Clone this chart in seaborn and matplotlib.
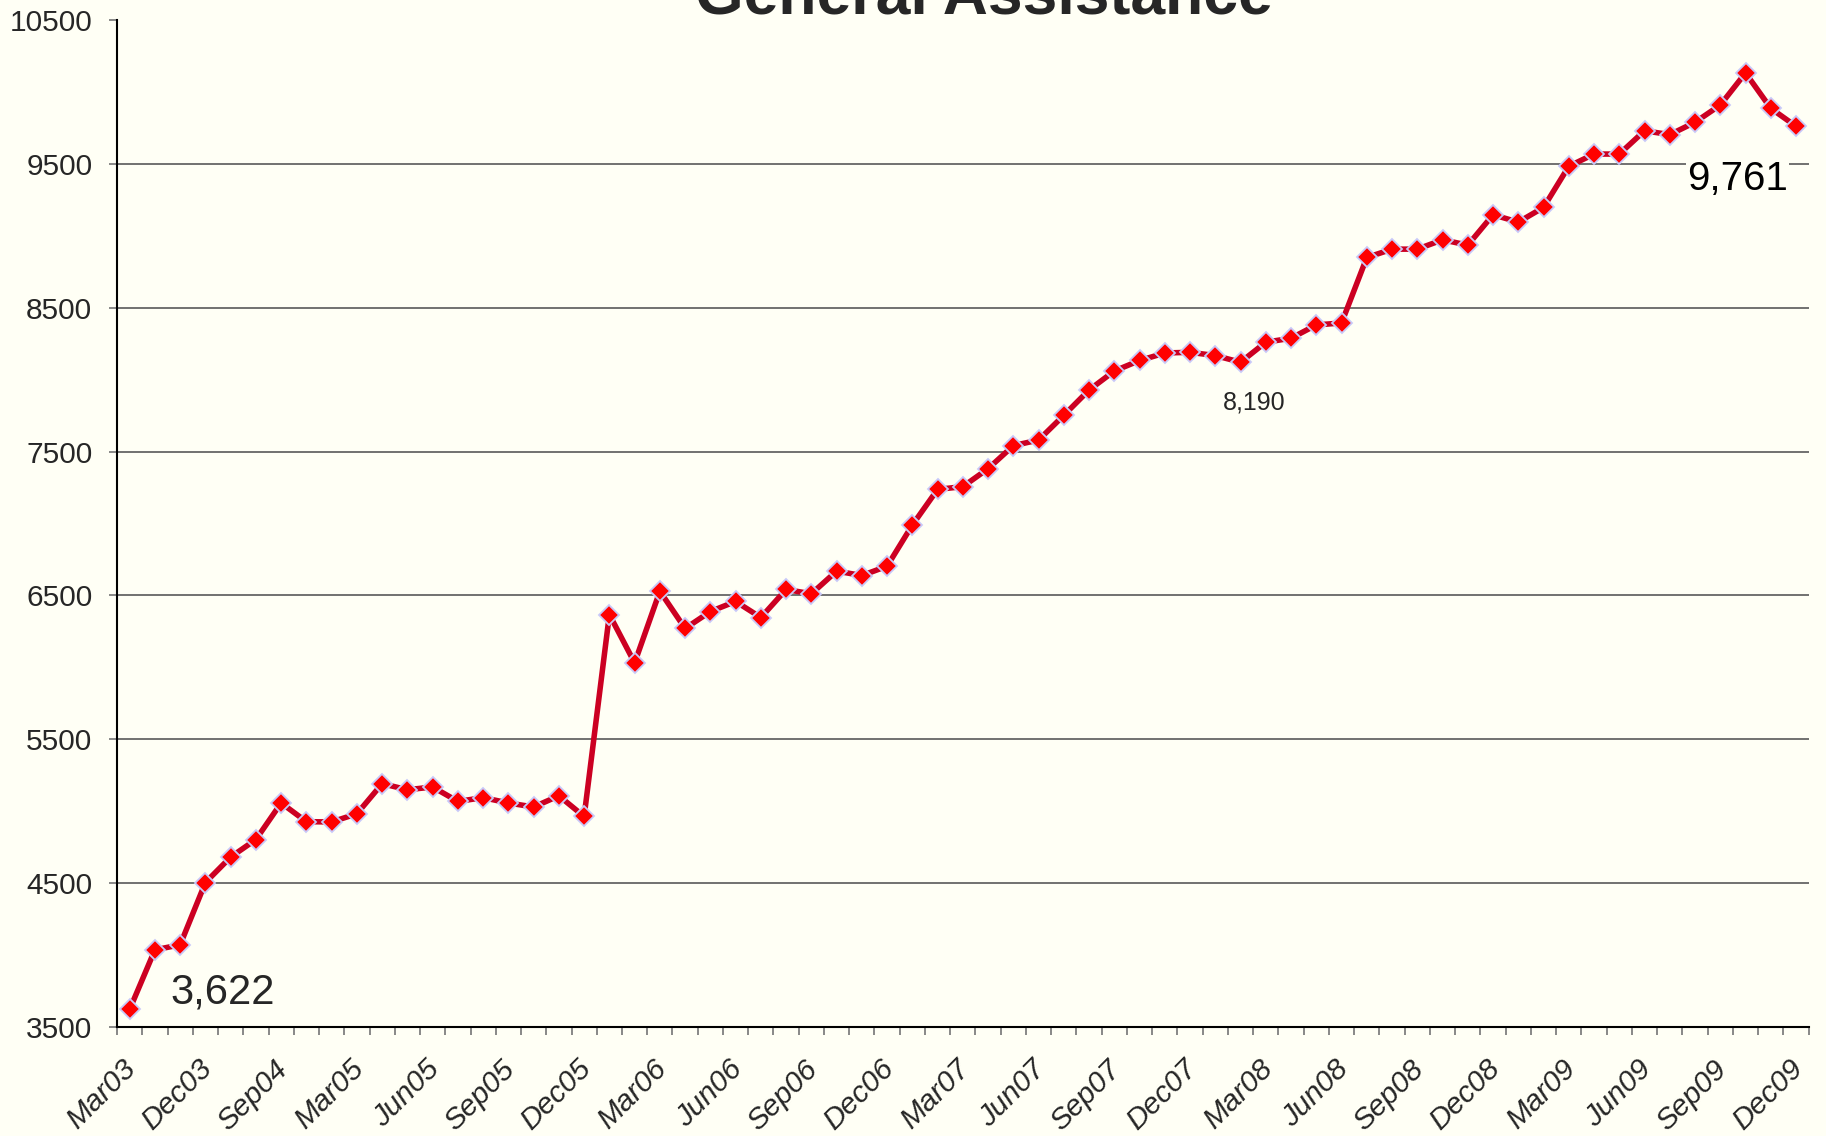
import numpy as np
import pandas as pd
import matplotlib
matplotlib.use("Agg")
import matplotlib.pyplot as plt
import matplotlib.transforms as mtransforms
import seaborn as sns

# series (one point per category)
values = [
    3622, 4036, 4071, 4504, 4681, 4803, 5057, 4927, 4925, 4982,
    5191, 5149, 5168, 5068, 5094, 5057, 5029, 5107, 4963, 6367,
    6031, 6529, 6270, 6388, 6458, 6346, 6541, 6511, 6669, 6638,
    6703, 6989, 7237, 7256, 7381, 7541, 7580, 7752, 7928, 8060,
    8133, 8185, 8190, 8167, 8121, 8260, 8288, 8380, 8394, 8849,
    8907, 8907, 8972, 8935, 9146, 9095, 9197, 9483, 9568, 9568,
    9730, 9703, 9789, 9909, 10132, 9886, 9761,
]
# every third category carries a label
tick_labels = [
    "Mar03", "Dec03", "Sep04", "Mar05", "Jun05", "Sep05", "Dec05", "Mar06",
    "Jun06", "Sep06", "Dec06", "Mar07", "Jun07", "Sep07", "Dec07", "Mar08",
    "Jun08", "Sep08", "Dec08", "Mar09", "Jun09", "Sep09", "Dec09",
]
y_ticks = [3500, 4500, 5500, 6500, 7500, 8500, 9500, 10500]
title = "General Assistance"
labelled_points = [0, 42, 66]

bg = "#FFFFF5"
txt = "#262626"

sns.set_style("white")
plt.rcParams["font.family"] = ["Liberation Sans", "DejaVu Sans"]

df = pd.DataFrame({"x": np.arange(len(values)), "value": values})

fig = plt.figure(figsize=(18.26, 11.36), dpi=100, facecolor=bg)
ax = fig.add_axes([0.0641, 0.0960, 0.9264, 0.8864])
ax.set_facecolor(bg)

# gridlines on inner ticks only
for yv in y_ticks[1:-1]:
    ax.axhline(yv, color="#666666", lw=1.3, zorder=1)

sns.lineplot(data=df, x="x", y="value", ax=ax, color="#CC0022", lw=4,
             marker="D", markersize=10.5, markerfacecolor="#FF0000",
             markeredgecolor="#C8C8F8", markeredgewidth=1.3, zorder=3)

ax.set_xlim(-0.5, len(values) - 0.5)
ax.set_ylim(y_ticks[0], y_ticks[-1])
ax.set_xlabel("")
ax.set_ylabel("")

ax.set_yticks(y_ticks)
ax.set_yticklabels([str(v) for v in y_ticks], fontsize=21.5, color=txt)
ax.tick_params(axis="y", length=5.8, width=1.3, color="#7F7F7F", pad=12, left=True)

ax.set_xticks(np.arange(0, len(values), 3))
ax.set_xticklabels(tick_labels, rotation=45, ha="right", fontsize=21.5,
                   fontstyle="italic", color=txt)
ax.set_xticks(np.arange(-0.5, len(values), 1), minor=True)
ax.tick_params(axis="x", which="major", length=0, pad=20)
ax.tick_params(axis="x", which="minor", length=5.8, width=1.3, color="#7F7F7F",
               bottom=True)
shift = mtransforms.ScaledTranslation(0.12, 0, fig.dpi_scale_trans)
for lab in ax.get_xticklabels():
    lab.set_transform(lab.get_transform() + shift)

for side in ["top", "right"]:
    ax.spines[side].set_visible(False)
for side in ["left", "bottom"]:
    ax.spines[side].set_color("black")
    ax.spines[side].set_linewidth(1.5)

# point labels
offsets = {0: (29.5, 4.3, "left", 30, txt),
           42: (46.4, -41, "center", 18, txt),
           66: (-5.8, -46, "right", 29, "black")}
for i in labelled_points:
    dx, dy, ha, fs, col = offsets[i]
    ax.annotate(f"{values[i]:,}", xy=(i, values[i]), xytext=(dx, dy),
                textcoords="offset points", ha=ha, va="baseline",
                fontsize=fs, color=col, zorder=4,
                bbox=dict(facecolor=bg, edgecolor="none", pad=1))

fig.text(0.539, 1 - 14 / 1136, title, ha="center", va="baseline",
         fontsize=45, fontweight="bold", color=txt)

fig.savefig("out.png", dpi=100, facecolor=bg)
